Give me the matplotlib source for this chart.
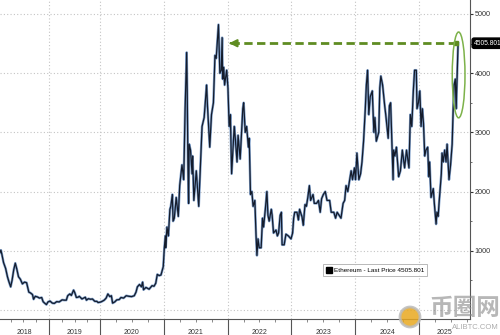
import numpy as np
import pandas as pd
import matplotlib
matplotlib.use("Agg")
import matplotlib.pyplot as plt
import matplotlib.transforms as mtransforms
from matplotlib.patches import Ellipse, Circle
from matplotlib.lines import Line2D

# --- data (Ethereum, USD) ---
dates = [
    '2018-01-15', '2018-01-22', '2018-01-29', '2018-02-10', '2018-02-25', '2018-03-10', '2018-03-20',
    '2018-04-02', '2018-04-12', '2018-04-24', '2018-05-05', '2018-05-15', '2018-05-28', '2018-06-10',
    '2018-06-25', '2018-07-10', '2018-07-25', '2018-08-10', '2018-08-20', '2018-09-05', '2018-09-13',
    '2018-09-25', '2018-10-10', '2018-10-25', '2018-11-10', '2018-11-20', '2018-12-01', '2018-12-14',
    '2018-12-25',
    '2019-01-08', '2019-01-25', '2019-02-08', '2019-02-25', '2019-03-15', '2019-04-05', '2019-04-20',
    '2019-05-05', '2019-05-15', '2019-05-30', '2019-06-10', '2019-06-26', '2019-07-05', '2019-07-16',
    '2019-07-28', '2019-08-06', '2019-08-25', '2019-09-18', '2019-09-26', '2019-10-10', '2019-10-26',
    '2019-11-08', '2019-11-25', '2019-12-10', '2019-12-18', '2019-12-31',
    '2020-01-10', '2020-01-25', '2020-02-05', '2020-02-15', '2020-02-26', '2020-03-06', '2020-03-13',
    '2020-03-25', '2020-04-06', '2020-04-20', '2020-04-30', '2020-05-15', '2020-05-30', '2020-06-15',
    '2020-06-30', '2020-07-15', '2020-07-25', '2020-08-02', '2020-08-14', '2020-08-25', '2020-09-01',
    '2020-09-06', '2020-09-20', '2020-10-08', '2020-10-25', '2020-11-05', '2020-11-15', '2020-11-24',
    '2020-12-05', '2020-12-15', '2020-12-28',
    '2021-01-04', '2021-01-10', '2021-01-12', '2021-01-19', '2021-01-27', '2021-02-05', '2021-02-10',
    '2021-02-19', '2021-02-23', '2021-03-02', '2021-03-13', '2021-03-25', '2021-04-02', '2021-04-15',
    '2021-04-25', '2021-05-03', '2021-05-12', '2021-05-15', '2021-05-19', '2021-05-23', '2021-05-26',
    '2021-06-03', '2021-06-12', '2021-06-15', '2021-06-22', '2021-07-06', '2021-07-20', '2021-07-30',
    '2021-08-08', '2021-08-20', '2021-09-03', '2021-09-08', '2021-09-21', '2021-10-01', '2021-10-12',
    '2021-10-21', '2021-10-28', '2021-11-04', '2021-11-10', '2021-11-18', '2021-11-26', '2021-12-01',
    '2021-12-04', '2021-12-10', '2021-12-15', '2021-12-27',
    '2022-01-03', '2022-01-10', '2022-01-17', '2022-01-24', '2022-02-08', '2022-02-14', '2022-02-24',
    '2022-03-02', '2022-03-14', '2022-03-29', '2022-04-03', '2022-04-12', '2022-04-20', '2022-04-30',
    '2022-05-05', '2022-05-12', '2022-05-20', '2022-05-27', '2022-06-06', '2022-06-13', '2022-06-18',
    '2022-06-24', '2022-07-01', '2022-07-12', '2022-07-20', '2022-07-26', '2022-08-05', '2022-08-14',
    '2022-08-20', '2022-08-27', '2022-09-08', '2022-09-13', '2022-09-21', '2022-10-05', '2022-10-13',
    '2022-10-20', '2022-10-29', '2022-11-05', '2022-11-09', '2022-11-21', '2022-12-01', '2022-12-15',
    '2022-12-30',
    '2023-01-08', '2023-01-14', '2023-01-20', '2023-02-02', '2023-02-10', '2023-02-17', '2023-03-03',
    '2023-03-10', '2023-03-20', '2023-03-28', '2023-04-05', '2023-04-14', '2023-04-21', '2023-05-05',
    '2023-05-12', '2023-05-25', '2023-06-05', '2023-06-15', '2023-06-23', '2023-07-03', '2023-07-14',
    '2023-07-24', '2023-08-08', '2023-08-17', '2023-09-01', '2023-09-11', '2023-09-20', '2023-10-12',
    '2023-10-24', '2023-11-02', '2023-11-10', '2023-11-20', '2023-12-09', '2023-12-17', '2023-12-28',
    '2024-01-03', '2024-01-11', '2024-01-22', '2024-02-01', '2024-02-09', '2024-02-18', '2024-02-28',
    '2024-03-05', '2024-03-12', '2024-03-19', '2024-03-27', '2024-04-08', '2024-04-17', '2024-04-23',
    '2024-05-01', '2024-05-15', '2024-05-21', '2024-05-27', '2024-06-06', '2024-06-18', '2024-06-24',
    '2024-07-08', '2024-07-15', '2024-07-22', '2024-08-05', '2024-08-08', '2024-08-15', '2024-08-24',
    '2024-09-06', '2024-09-16', '2024-09-27', '2024-10-10', '2024-10-21', '2024-11-04', '2024-11-12',
    '2024-11-20', '2024-11-29', '2024-12-06', '2024-12-16', '2024-12-20', '2024-12-28',
    '2025-01-06', '2025-01-13', '2025-01-20', '2025-01-27', '2025-02-03', '2025-02-10', '2025-02-20',
    '2025-02-26', '2025-03-03', '2025-03-11', '2025-03-24', '2025-03-30', '2025-04-09', '2025-04-14',
    '2025-04-21', '2025-04-26', '2025-05-09', '2025-05-13', '2025-05-20', '2025-05-28', '2025-06-05',
    '2025-06-11', '2025-06-22', '2025-07-01', '2025-07-10', '2025-07-16', '2025-07-21', '2025-07-28',
    '2025-08-02', '2025-08-08', '2025-08-11', '2025-08-13',
]
prices = [
    970, 1010, 940, 800, 700, 560, 480,
    390, 500, 680, 790, 700, 560, 520,
    440, 470, 460, 300, 290, 260, 180,
    230, 220, 200, 210, 140, 115, 90,
    135,
    150, 115, 110, 140, 135, 170, 165,
    165, 240, 270, 245, 335, 290, 210,
    215, 230, 185, 215, 165, 190, 180,
    185, 145, 145, 125, 130,
    140, 165, 200, 270, 225, 240, 115,
    135, 170, 175, 210, 200, 240, 230,
    225, 240, 300, 390, 430, 390, 470,
    340, 380, 350, 410, 400, 450, 600,
    580, 590, 730,
    1050, 1250, 1050, 1400, 1250, 1700, 1750,
    1950, 1500, 1550, 1900, 1580, 2100, 2450,
    2200, 3400, 4350, 3700, 2500, 1800, 2800,
    2700, 2300, 2600, 1850, 2350, 1750, 2450,
    3100, 3250, 3800, 3450, 2750, 3300, 3500,
    4300, 4250, 4550, 4820, 4000, 4050, 4600,
    3900, 4100, 3800, 4050,
    3750, 3100, 3300, 2300, 3100, 2900, 2500,
    2950, 2550, 3400, 3500, 3000, 3100, 2750,
    2900, 1950, 2000, 1750, 1850, 1250, 920,
    1200, 1050, 1050, 1550, 1400, 1700, 2000,
    1600, 1500, 1700, 1600, 1300, 1350, 1250,
    1300, 1600, 1650, 1100, 1100, 1280, 1250,
    1200,
    1300, 1550, 1650, 1650, 1520, 1700, 1570,
    1430, 1780, 1750, 1900, 2100, 1850, 1950,
    1800, 1800, 1850, 1650, 1880, 1950, 2000,
    1850, 1850, 1650, 1650, 1550, 1650, 1550,
    1800, 1850, 2100, 2000, 2350, 2200, 2400,
    2200, 2650, 2200, 2300, 2500, 2850, 3400,
    3800, 4050, 3300, 3600, 3700, 3000, 3250,
    2850, 3000, 3750, 3950, 3800, 3450, 3300,
    2900, 3450, 3500, 2200, 2700, 2600, 2750,
    2250, 2350, 2700, 2400, 2700, 2400, 3300,
    3100, 3700, 4050, 4050, 3400, 3500,
    3700, 3100, 3400, 3150, 2600, 2700, 2750,
    2250, 2500, 1900, 2050, 1800, 1450, 1650,
    1580, 1800, 2300, 2650, 2500, 2700, 2500,
    2800, 2200, 2450, 2800, 3400, 3800, 3900,
    3400, 4000, 4300, 4505.801,
]
last_price = 4505.801
prior_peak_date = '2021-12-25'   # arrow tip
ellipse_center = ('2025-08-16', 3970)
years = [2018, 2019, 2020, 2021, 2022, 2023, 2024, 2025]
y_labels = [1000, 2000, 3000, 4000, 5000]

# Bloomberg compresses the first two years on the time axis
year_edges = np.arange(2018, 2027)
year_widths = [0.8, 0.8, 1, 1, 1, 1, 1, 1]
axis_pos = np.concatenate([[0], np.cumsum(year_widths)])


def to_year(d):
    d = pd.Timestamp(d)
    return d.year + (d.dayofyear - 1) / 365.25


x = np.array([to_year(d) for d in dates])
y = np.array(prices)

plt.rcParams['font.family'] = ['Liberation Sans', 'DejaVu Sans']

fig = plt.figure(figsize=(5, 3.35), dpi=100)
ax = fig.add_axes([0, 0.048, 0.94, 0.952])
ax.set_xscale('function', functions=(lambda v: np.interp(v, year_edges, axis_pos),
                                     lambda p: np.interp(p, axis_pos, year_edges)))
ax.set_xlim(2018.04, 2025.8)
ax.set_ylim(-152, 5236)

# grid
for v in range(0, 6000, 1000):
    ax.axhline(v, color='#c4c4c4', lw=0.8, ls=(0, (1, 2)), zorder=0)
for yr in years[1:]:
    ax.axvline(yr, color='#c4c4c4', lw=0.8, ls=(0, (1, 2)), zorder=0)

# price line (blue halo under dark line)
ax.plot(x, y, color='#4a78b5', lw=1.8, alpha=0.7, zorder=2)
ax.plot(x, y, color='#141c2c', lw=0.9, zorder=3)

# dashed arrow back to the prior peak
green = '#5f8c22'
x_tip = to_year(prior_peak_date)
ax.plot([x_tip + 0.08, x[-1] - 0.03], [last_price, last_price], color=green, lw=2,
        ls=(0, (3, 1.6)), zorder=4)
ax.annotate('', xy=(x_tip, last_price), xytext=(x_tip + 0.12, last_price),
            arrowprops=dict(arrowstyle='-|>', color=green, lw=1.5, mutation_scale=11), zorder=4)
ax.plot([x[-1] - 0.03], [last_price], marker='s', ms=3.5, color=green, zorder=5)

ax.add_patch(Ellipse((to_year(ellipse_center[0]), ellipse_center[1]),
                     width=0.2, height=1450, fill=False, ec='#7db24a', lw=1.1, zorder=5))

# axes styling
for s in ['left', 'top']:
    ax.spines[s].set_visible(False)
for s in ['right', 'bottom']:
    ax.spines[s].set_color('#555555')
    ax.spines[s].set_linewidth(0.8)

ax.yaxis.tick_right()
ax.set_yticks(y_labels)
ax.set_yticklabels([str(v) for v in y_labels])
ax.set_yticks(np.arange(500, 5500, 1000), minor=True)
ax.tick_params(axis='y', which='major', direction='out', length=2, width=0.8, pad=1.5,
               labelsize=5.2, colors='#333333')
ax.tick_params(axis='y', which='minor', direction='out', length=1.5, width=0.6, colors='#555555')

ax.set_xticks(years[1:])
ax.set_xticklabels([])
ax.set_xticks([yr + q for yr in years for q in (0.25, 0.5, 0.75)], minor=True)
ax.tick_params(axis='x', which='major', direction='out', length=12, width=0.8, colors='#555555')
ax.tick_params(axis='x', which='minor', direction='out', length=2, width=0.6, colors='#777777')

xt = mtransforms.blended_transform_factory(ax.transData, ax.transAxes)
for yr in years:
    mid = (max(yr, 2018.04) + min(yr + 1, 2025.8)) / 2
    ax.text(mid, -0.043, str(yr), transform=xt, ha='center', va='center', fontsize=5,
            color='#333333')

# last-price tag on the axis
yt = mtransforms.blended_transform_factory(ax.transAxes, ax.transData)
ax.text(1.008, last_price, f'{last_price:.3f}', transform=yt, ha='left', va='center',
        fontsize=4.8, color='white', zorder=6, clip_on=False,
        bbox=dict(boxstyle='round,pad=0.25,rounding_size=0.3', fc='black', ec='black'))

# legend
handle = Line2D([], [], ls='none', marker='s', ms=4, color='black')
leg = ax.legend([handle], [f'Ethereum - Last Price {last_price:.3f}'], loc='lower left',
                bbox_to_anchor=(323 / 470, 43 / 319), borderaxespad=0, fontsize=4.6,
                frameon=True, fancybox=False, handlelength=0.8, handletextpad=0.4,
                borderpad=0.5)
leg.get_frame().set_edgecolor('#999999')
leg.get_frame().set_linewidth(0.6)

# watermark
fig.patches.append(Circle((410, 18), 10, transform=None, fc='#e8a820', ec='#bbbbbb', lw=2,
                          alpha=0.85, zorder=10))
fig.text(0.93, 0.08, '币圈网', family=['Noto Sans CJK SC', 'DejaVu Sans'], fontsize=17,
         color='#888888', alpha=0.6, ha='center', va='center', fontweight='bold')
fig.text(0.95, 0.022, 'ALIBTC.COM', fontsize=5.5, color='#888888', alpha=0.7,
         ha='center', va='center')

fig.savefig('out.png', dpi=100)
